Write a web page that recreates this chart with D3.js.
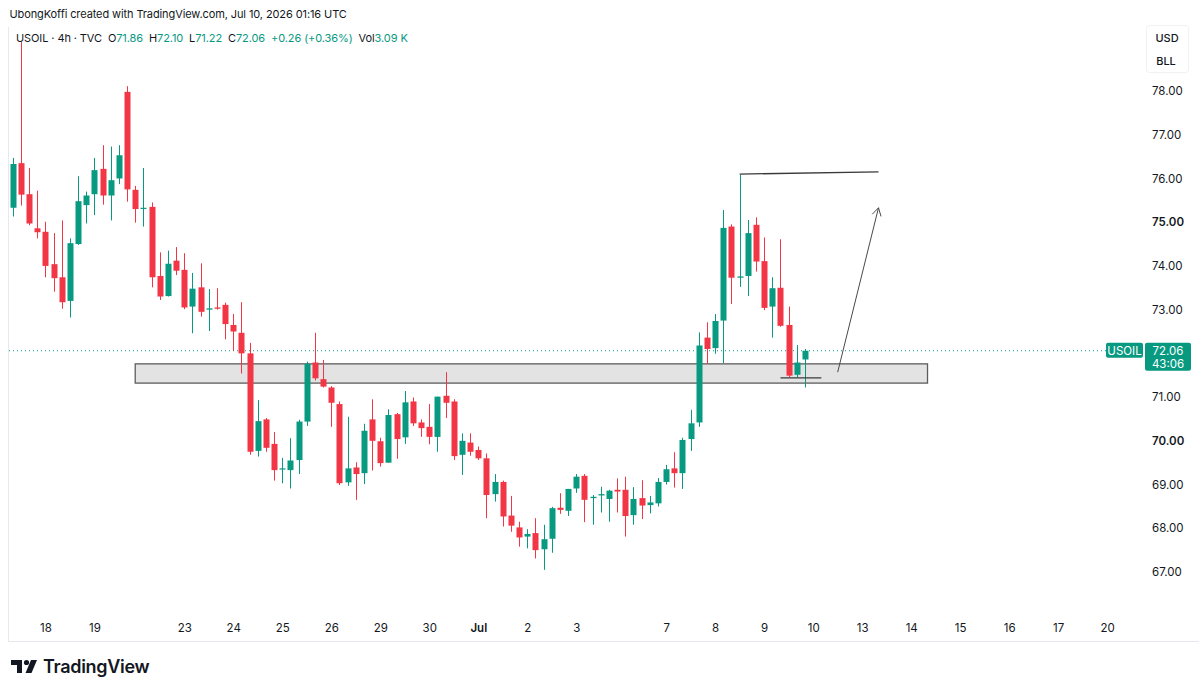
<!DOCTYPE html>
<html>
<head>
<meta charset="utf-8">
<script src="https://cdn.jsdelivr.net/npm/d3@7"></script>
<style>
  html, body { margin: 0; padding: 0; background: #ffffff; }
  svg { display: block; font-family: Inter, "Noto Sans", Roboto, sans-serif; }
</style>
</head>
<body>
<svg id="chart" width="1199" height="694"></svg>
<script>
// ---- DATA ----
const opens  = [75.33,76.35,75.64,74.86,74.78,74.04,73.74,73.20,74.50,75.39,75.64,76.22,75.61,76.00,77.98,75.74,75.31,75.35,73.77,73.31,
                74.12,73.91,73.07,73.51,73.00,73.05,73.11,72.65,72.47,72.00,69.77,70.49,69.93,69.35,69.33,69.56,70.44,71.79,71.41,71.22,
                70.84,69.05,69.39,69.26,70.49,69.99,69.50,70.61,70.08,70.90,70.42,70.32,70.09,71.03,70.90,69.68,69.96,69.79,69.60,68.78,
                69.06,68.29,68.02,67.81,67.89,67.52,67.76,68.47,68.40,68.91,69.20,68.69,68.75,68.67,68.88,68.88,68.30,68.69,68.53,68.57,
                69.06,69.37,69.26,70.04,70.42,72.36,72.12,72.75,74.90,73.73,73.77,74.94,74.11,73.07,73.50,72.65,71.51,71.86];
const highs  = [76.47,79.12,76.24,75.72,75.01,74.75,75.04,74.63,76.05,75.70,76.47,76.76,76.73,76.76,78.11,75.83,76.24,75.45,74.31,74.35,
                74.43,74.29,73.84,74.06,73.47,73.49,73.16,72.90,73.17,72.24,70.93,70.52,70.20,69.61,70.06,70.48,71.81,72.47,71.85,71.25,
                70.90,70.55,69.51,70.39,70.95,70.07,70.72,70.64,71.14,70.99,70.49,70.84,71.01,71.57,70.95,70.17,70.17,69.87,69.71,69.24,
                69.09,68.74,68.15,67.98,68.23,68.08,68.49,68.80,68.90,69.24,69.24,68.76,68.95,68.88,69.14,69.18,68.94,69.10,68.74,69.15,
                69.45,69.74,70.07,70.71,72.48,72.71,72.90,75.28,74.95,76.08,75.05,75.11,74.65,73.74,74.61,73.07,72.19,72.10];
const lows   = [75.13,75.38,74.93,74.63,73.74,73.41,73.02,72.82,74.48,74.97,75.16,75.40,75.04,75.87,75.47,74.99,74.90,73.51,73.22,73.30,
                73.79,73.01,72.46,72.84,72.51,73.00,72.32,72.06,71.54,69.68,69.64,69.75,69.09,69.03,68.91,69.24,70.34,71.38,71.22,70.32,
                68.99,68.97,68.65,69.01,69.32,69.41,69.50,69.59,69.93,70.34,70.09,69.92,69.75,70.52,69.56,69.22,69.66,69.56,68.23,68.61,
                68.04,67.92,67.58,67.54,67.31,67.05,67.44,68.33,68.28,68.81,68.14,68.08,68.36,68.15,68.36,67.81,68.08,68.21,68.34,68.50,
                69.00,68.93,68.90,69.77,70.32,71.76,71.99,71.78,73.13,73.52,73.31,73.87,72.99,72.36,72.61,71.45,71.45,71.22];
const closes = [76.33,75.63,74.97,74.77,74.00,73.72,73.17,74.52,75.48,75.61,76.19,75.61,75.96,76.53,75.75,75.30,75.33,73.74,73.30,74.05,
                73.89,73.05,73.48,72.95,73.03,73.02,72.67,72.50,72.00,69.75,70.45,69.84,69.33,69.37,69.55,70.44,71.76,71.43,71.24,70.87,
                69.03,69.37,69.24,70.23,70.00,69.49,70.59,70.04,70.88,70.40,70.29,70.09,71.01,70.87,69.65,70.00,69.75,69.60,68.76,69.06,
                68.27,68.06,67.79,67.87,67.50,67.75,68.46,68.42,68.90,69.18,68.65,68.72,68.78,68.86,68.84,68.28,68.67,68.52,68.59,69.06,
                69.35,69.26,70.02,70.40,72.18,72.10,72.74,74.87,73.73,73.76,74.75,74.10,73.04,73.49,72.63,71.49,71.79,72.06];

const dateLabels = ["18","19","23","24","25","26","29","30","Jul","2","3","7","8","9","10","13","14","15","16","17","20"];
const dateBars   = [4,10,21,27,33,39,45,51,57,63,69,80,86,92,98,104,110,116,122,128,134];
const priceTicks = [67,68,69,70,71,73,74,75,76,77,78];

const zoneBars   = [15, 112];
const zonePrices = [71.76, 71.32];
const resistBars = [89, 106];
const resistPrices = [76.10, 76.15];
const supportBars = [94, 99];
const supportPrices = [71.44, 71.44];
const arrowBars = [101, 106];
const arrowPrices = [71.57, 75.33];

const lastPrice = 72.06;
const countdown = "43:06";

// ---- SCALES ----
const W = 1199, H = 694;
const GREEN = "#089981", RED = "#f23645", TEXT = "#131722";
const x = d3.scaleLinear().domain([0, 97]).range([12.7, 805]);
const y = d3.scaleLinear().domain([67, 78]).range([572, 91]);

const svg = d3.select("#chart");
svg.append("rect").attr("width", W).attr("height", H).attr("fill", "#fff");

// frame
svg.append("line").attr("x1", 8.5).attr("x2", 8.5).attr("y1", 27).attr("y2", 641)
  .attr("stroke", "#e6e8ee").attr("stroke-width", 1);
svg.append("line").attr("x1", 8).attr("x2", W).attr("y1", 641.5).attr("y2", 641.5)
  .attr("stroke", "#e6e8ee").attr("stroke-width", 1);

// header
svg.append("text").attr("x", 9.5).attr("y", 18).attr("font-size", 11).attr("letter-spacing", -0.1).attr("fill", TEXT)
  .text("UbongKoffi created with TradingView.com, Jul 10, 2026 01:16 UTC");
const hdr = svg.append("text").attr("x", 16).attr("y", 42).attr("font-size", 11).attr("letter-spacing", -0.1)
  .attr("fill", TEXT).attr("xml:space", "preserve");
const parts = [["USOIL · 4h · TVC  ", TEXT], ["O", TEXT], ["71.86  ", GREEN], ["H", TEXT], ["72.10  ", GREEN],
  ["L", TEXT], ["71.22  ", GREEN], ["C", TEXT], ["72.06  +0.26 (+0.36%)  ", GREEN], ["Vol", TEXT], ["3.09 K", GREEN]];
parts.forEach(p => hdr.append("tspan").attr("fill", p[1]).text(p[0]));

// zone
svg.append("rect")
  .attr("x", x(zoneBars[0])).attr("y", y(zonePrices[0]))
  .attr("width", x(zoneBars[1]) - x(zoneBars[0]))
  .attr("height", y(zonePrices[1]) - y(zonePrices[0]))
  .attr("fill", "rgba(200,200,200,0.5)").attr("stroke", "#5d5d5d").attr("stroke-width", 1.3);

// current price dotted line
svg.append("line").attr("x1", 9).attr("x2", 1106).attr("y1", y(lastPrice)).attr("y2", y(lastPrice))
  .attr("stroke", GREEN).attr("stroke-width", 1).attr("stroke-dasharray", "1,3");

// candles
const idx = d3.range(opens.length);
const g = svg.append("g");
g.selectAll("line.wick").data(idx).join("line").attr("class", "wick")
  .attr("x1", i => Math.round(x(i)) + 0.5).attr("x2", i => Math.round(x(i)) + 0.5)
  .attr("y1", i => y(highs[i])).attr("y2", i => y(lows[i]))
  .attr("stroke", i => closes[i] >= opens[i] ? GREEN : RED).attr("stroke-width", 1);
g.selectAll("rect.body").data(idx).join("rect").attr("class", "body")
  .attr("x", i => Math.round(x(i)) - 2.5).attr("width", 6)
  .attr("y", i => y(Math.max(opens[i], closes[i])))
  .attr("height", i => Math.max(1.2, Math.abs(y(opens[i]) - y(closes[i]))))
  .attr("fill", i => closes[i] >= opens[i] ? GREEN : RED);

// drawings
svg.append("line").attr("x1", x(resistBars[0])).attr("x2", x(resistBars[1]))
  .attr("y1", y(resistPrices[0])).attr("y2", y(resistPrices[1]))
  .attr("stroke", "#3a3a3a").attr("stroke-width", 1.3);
svg.append("line").attr("x1", x(supportBars[0])).attr("x2", x(supportBars[1]))
  .attr("y1", y(supportPrices[0])).attr("y2", y(supportPrices[1]))
  .attr("stroke", "#3a3a3a").attr("stroke-width", 1.3);
const ax1 = x(arrowBars[0]), ay1 = y(arrowPrices[0]), ax2 = x(arrowBars[1]), ay2 = y(arrowPrices[1]);
svg.append("line").attr("x1", ax1).attr("y1", ay1).attr("x2", ax2).attr("y2", ay2)
  .attr("stroke", "#4a4a4a").attr("stroke-width", 1);
const ang = Math.atan2(ay2 - ay1, ax2 - ax1);
const hl = 9, ha = Math.PI / 6;
svg.append("path")
  .attr("d", `M${ax2 - hl * Math.cos(ang - ha)},${ay2 - hl * Math.sin(ang - ha)}L${ax2},${ay2}L${ax2 - hl * Math.cos(ang + ha)},${ay2 - hl * Math.sin(ang + ha)}`)
  .attr("fill", "none").attr("stroke", "#4a4a4a").attr("stroke-width", 1);

// price axis
const yAxis = d3.axisRight(y).tickValues(priceTicks).tickFormat(d3.format(".2f")).tickSize(0).tickPadding(0);
const ya = svg.append("g").attr("transform", "translate(1152,0)").call(yAxis);
ya.select(".domain").remove();
ya.selectAll("text").attr("font-family", "Inter, sans-serif").attr("font-size", 11.5).attr("fill", TEXT)
  .attr("font-weight", d => d % 5 === 0 ? 600 : 400);

// date axis
const xAxis = d3.axisBottom(x).tickValues(dateBars).tickFormat((d, i) => dateLabels[i]).tickSize(0).tickPadding(0);
const xa = svg.append("g").attr("transform", "translate(0,624)").call(xAxis);
xa.select(".domain").remove();
xa.selectAll("text").attr("font-family", "Inter, sans-serif").attr("font-size", 11.5).attr("fill", TEXT)
  .attr("font-weight", (d, i) => dateLabels[i] === "Jul" ? 600 : 400);

// currency box
svg.append("rect").attr("x", 1146.5).attr("y", 25.5).attr("width", 42).attr("height", 47)
  .attr("fill", "#fff").attr("stroke", "#f0f1f4").attr("rx", 3);
svg.append("text").attr("x", 1167).attr("y", 42).attr("text-anchor", "middle").attr("font-size", 11)
  .attr("font-weight", 500).attr("fill", TEXT).text("USD");
svg.append("text").attr("x", 1166).attr("y", 65).attr("text-anchor", "middle").attr("font-size", 11)
  .attr("font-weight", 500).attr("fill", TEXT).text("BLL");

// price labels
const ly = y(lastPrice);
svg.append("rect").attr("x", 1106).attr("y", ly - 8).attr("width", 37).attr("height", 15).attr("rx", 2).attr("fill", GREEN);
svg.append("text").attr("x", 1124.5).attr("y", ly + 4).attr("text-anchor", "middle").attr("font-size", 11.5)
  .attr("fill", "#fff").text("USOIL");
svg.append("rect").attr("x", 1145).attr("y", ly - 8).attr("width", 46).attr("height", 28).attr("rx", 2).attr("fill", GREEN);
svg.append("text").attr("x", 1168).attr("y", ly + 4).attr("text-anchor", "middle").attr("font-size", 11.5)
  .attr("fill", "#fff").text(d3.format(".2f")(lastPrice));
svg.append("text").attr("x", 1168).attr("y", ly + 17).attr("text-anchor", "middle").attr("font-size", 11.5)
  .attr("fill", "#fff").text(countdown);

// TradingView logo
const logo = svg.append("g").attr("fill", TEXT);
logo.append("path").attr("d", "M11,660 H22 V673 H17 V665 H11 Z");
logo.append("circle").attr("cx", 26.5).attr("cy", 662.5).attr("r", 2.6);
logo.append("path").attr("d", "M31,660 H37 L31.5,673 H25.5 Z");
svg.append("text").attr("x", 43).attr("y", 673).attr("font-size", 18).attr("font-weight", 600)
  .attr("fill", TEXT).attr("letter-spacing", -0.3).text("TradingView");
</script>
</body>
</html>
